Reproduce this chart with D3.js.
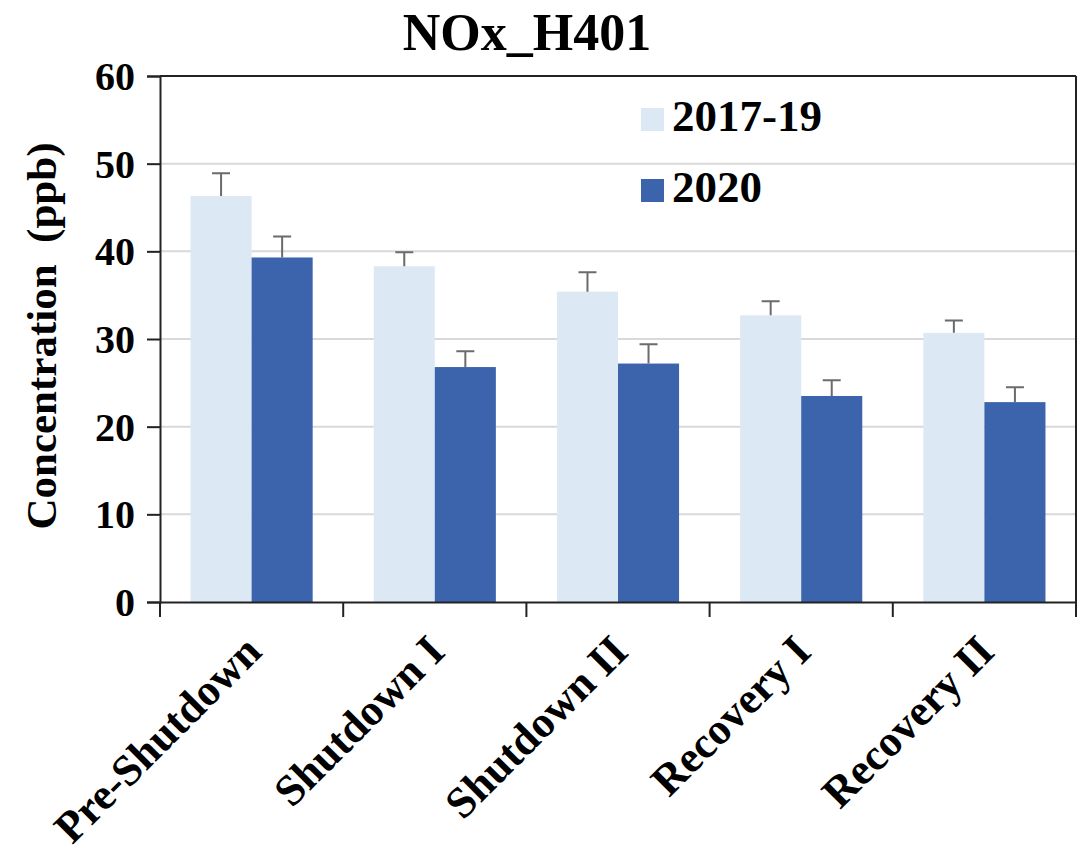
<!DOCTYPE html>
<html>
<head>
<meta charset="utf-8">
<script src="https://cdn.jsdelivr.net/npm/d3@7"></script>
<style>
  html, body { margin: 0; padding: 0; background: #fff; }
  text { font-family: "Liberation Serif", "Times New Roman", serif; font-weight: bold; }
</style>
</head>
<body>
<svg id="chart" width="1081" height="855"></svg>
<script>
const categories = ["Pre-Shutdown", "Shutdown I", "Shutdown II", "Recovery I", "Recovery II"];
const seriesNames = ["2017-19", "2020"];
const values2017_19 = [46.3, 38.3, 35.4, 32.7, 30.7];
const values2020 = [39.3, 26.8, 27.2, 23.5, 22.8];
const errors2017_19 = [2.6, 1.6, 2.2, 1.6, 1.4];
const errors2020 = [2.4, 1.8, 2.2, 1.8, 1.7];
const yTicks = [0, 10, 20, 30, 40, 50, 60];
const colors = ["#dde8f5", "#3c64ac"];

const svg = d3.select("#chart");
const mLeft = 160, mRight = 1076, mTop = 76, mBottom = 602;

const x0 = d3.scaleBand().domain(categories).range([mLeft, mRight]).paddingInner(0).paddingOuter(0);
const x1 = d3.scaleBand().domain(seriesNames).range([0, x0.bandwidth()]).paddingInner(0).paddingOuter(0.5);
const y = d3.scaleLinear().domain([0, 60]).range([mBottom, mTop]);

// gridlines
svg.append("g").selectAll("line").data(yTicks.filter(t => t > 0 && t < 60)).join("line")
  .attr("x1", mLeft).attr("x2", mRight)
  .attr("y1", d => y(d)).attr("y2", d => y(d))
  .attr("stroke", "#d9d9d9").attr("stroke-width", 2);

// bars
const data = categories.map((c, i) => ({
  cat: c,
  vals: [
    { s: seriesNames[0], v: values2017_19[i], e: errors2017_19[i] },
    { s: seriesNames[1], v: values2020[i], e: errors2020[i] }
  ]
}));

const groups = svg.append("g").selectAll("g").data(data).join("g")
  .attr("transform", d => `translate(${x0(d.cat)},0)`);

groups.selectAll("rect").data(d => d.vals).join("rect")
  .attr("x", d => x1(d.s))
  .attr("width", x1.bandwidth())
  .attr("y", d => y(d.v))
  .attr("height", d => y(0) - y(d.v))
  .attr("fill", (d, i) => colors[i]);

// error bars (upper only)
const capW = 18;
groups.selectAll("path.err").data(d => d.vals).join("path")
  .attr("class", "err")
  .attr("d", d => {
    const cx = x1(d.s) + x1.bandwidth() / 2;
    return `M${cx},${y(d.v)}V${y(d.v + d.e)}M${cx - capW / 2},${y(d.v + d.e)}H${cx + capW / 2}`;
  })
  .attr("stroke", "#6b6b6b").attr("stroke-width", 2).attr("fill", "none");

// plot border top & right
svg.append("line").attr("x1", mLeft).attr("x2", mRight).attr("y1", mTop).attr("y2", mTop)
  .attr("stroke", "#222").attr("stroke-width", 2);
svg.append("line").attr("x1", mRight).attr("x2", mRight).attr("y1", mTop).attr("y2", mBottom)
  .attr("stroke", "#222").attr("stroke-width", 2);

// y axis
const yAxis = svg.append("g").attr("transform", `translate(${mLeft},0)`)
  .call(d3.axisLeft(y).tickValues(yTicks).tickSize(13).tickPadding(12));
yAxis.select(".domain").attr("stroke", "#222").attr("stroke-width", 2);
yAxis.selectAll(".tick line").attr("stroke", "#222").attr("stroke-width", 2);
yAxis.selectAll(".tick text").attr("font-size", 40).attr("fill", "#000")
  .attr("font-family", "Liberation Serif").attr("font-weight", "bold").attr("dy", "0.34em");

// x axis
const xAxis = svg.append("g").attr("transform", `translate(0,${mBottom})`)
  .call(d3.axisBottom(x0).tickSize(0).tickFormat(""));
xAxis.select(".domain").attr("stroke", "#222").attr("stroke-width", 2);
// category boundary ticks
const bounds = categories.map(c => x0(c)).concat([mRight]);
svg.append("g").selectAll("line").data(bounds).join("line")
  .attr("x1", d => d).attr("x2", d => d)
  .attr("y1", mBottom).attr("y2", mBottom + 15)
  .attr("stroke", "#222").attr("stroke-width", 2);

// x labels rotated
svg.append("g").selectAll("text").data(categories).join("text")
  .attr("transform", d => `translate(${x0(d) + x0.bandwidth() / 2 + 12},${mBottom + 52}) rotate(-45)`)
  .attr("text-anchor", "end")
  .attr("font-size", 44)
  .attr("fill", "#000")
  .text(d => d);

// y axis title
svg.append("text")
  .attr("transform", `translate(56,${(mTop + mBottom) / 2 - 3}) rotate(-90)`)
  .attr("text-anchor", "middle")
  .attr("font-size", 43)
  .attr("fill", "#000")
  .text("Concentration\u00a0 (ppb)");

// title
svg.append("text")
  .attr("x", 527).attr("y", 50)
  .attr("text-anchor", "middle")
  .attr("font-size", 52)
  .attr("fill", "#000")
  .text("NOx_H401");

// legend
const legend = svg.append("g").selectAll("g").data(seriesNames).join("g")
  .attr("transform", (d, i) => `translate(641,${108 + i * 71})`);
legend.append("rect").attr("width", 23).attr("height", 23).attr("fill", (d, i) => colors[i]);
legend.append("text").attr("x", 31).attr("y", 23).attr("font-size", 45).attr("fill", "#000").text(d => d);
</script>
</body>
</html>
